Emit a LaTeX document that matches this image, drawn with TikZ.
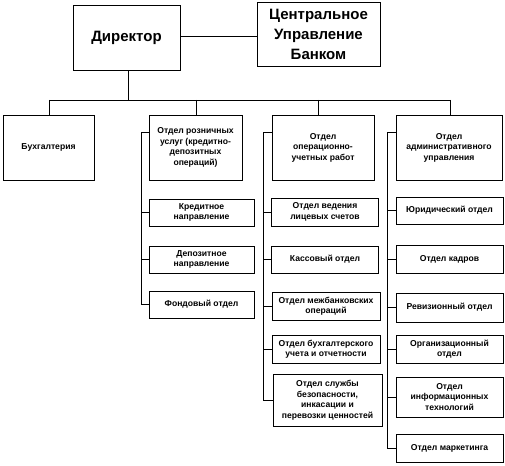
\documentclass[tikz,border=0pt]{standalone}
\usepackage{fontspec}
\setmainfont{Liberation Sans}
\begin{document}
\begin{tikzpicture}[x=1pt,y=-1pt,
  box/.style={draw=black, line width=0.8pt, align=center, inner sep=0pt,
    font=\bfseries\fontsize{8.6}{10.5}\selectfont},
  bigbox/.style={box, font=\bfseries\fontsize{15}{20}\selectfont},
  conn/.style={draw=black, line width=0.8pt}]
\useasboundingbox (0,0) rectangle (505,465);
% top
\node[bigbox, minimum width=107pt, minimum height=65pt] (dir) at (126.5,37.5) {Директор};
\node[bigbox, minimum width=123pt, minimum height=64pt] (cub) at (318.5,34) {Центральное\\Управление\\Банком};
% level 2
\node[box, minimum width=91pt, minimum height=65pt] (buh) at (48.5,147.5) {Бухгалтерия};
\node[box, minimum width=93pt, minimum height=65pt] (ret) at (195.5,147.5) {Отдел розничных\\услуг (кредитно-\\депозитных\\операций)};
\node[box, minimum width=102pt, minimum height=65pt] (op) at (323,147.5) {Отдел\\операционно-\\учетных работ};
\node[box, minimum width=106pt, minimum height=65pt] (adm) at (449,147.5) {Отдел\\административного\\управления};
% retail subs
\node[box, minimum width=105pt, minimum height=27pt] (kred) at (201.5,212.5) {Кредитное\\направление};
\node[box, minimum width=105pt, minimum height=27pt] (dep) at (201.5,259.5) {Депозитное\\направление};
\node[box, minimum width=105pt, minimum height=27pt] (fond) at (201.5,304.5) {Фондовый отдел};
% op subs
\node[box, minimum width=107pt, minimum height=28pt] (ved) at (325,212) {Отдел ведения\\лицевых счетов};
\node[box, minimum width=107pt, minimum height=27pt] (kass) at (325,259.5) {Кассовый отдел};
\node[box, minimum width=108pt, minimum height=28pt] (mezh) at (326,306) {Отдел межбанковских\\операций};
\node[box, minimum width=108pt, minimum height=28pt] (buhuch) at (326,349) {Отдел бухгалтерского\\учета и отчетности};
\node[box, minimum width=109pt, minimum height=52pt] (sluzh) at (327.5,400) {Отдел службы\\безопасности,\\инкасации и\\перевозки ценностей};
% admin subs
\node[box, minimum width=107pt, minimum height=27pt] (ur) at (449.5,210.5) {Юридический отдел};
\node[box, minimum width=107pt, minimum height=28pt] (kadr) at (449.5,259) {Отдел кадров};
\node[box, minimum width=107pt, minimum height=29pt] (rev) at (449.5,307.5) {Ревизионный отдел};
\node[box, minimum width=107pt, minimum height=28pt] (org) at (449.5,349) {Организационный\\отдел};
\node[box, minimum width=107pt, minimum height=40pt] (inf) at (449.5,397) {Отдел\\информационных\\технологий};
\node[box, minimum width=107pt, minimum height=28pt] (mark) at (449.5,448) {Отдел маркетинга};
% top connectors
\coordinate (hl) at (0,36);
\draw[conn] (dir.east |- hl) -- (cub.west |- hl);
\coordinate (bus) at (128,100);
\coordinate (b1) at (49,100);
\coordinate (b4) at (450,100);
\coordinate (b3) at (318,100);
\coordinate (b2) at (196,100);
\draw[conn] (dir.south -| bus) -- (bus);
\draw[conn] (b1) -- (b4);
\draw[conn] (b1) -- (b1 |- buh.north);
\draw[conn] (b2) -- (b2 |- ret.north);
\draw[conn] (b3) -- (b3 |- op.north);
\draw[conn] (b4) -- (b4 |- adm.north);
% retail trunk
\coordinate (rt) at (141,132);
\draw[conn] (rt -| ret.west) -- (rt) |- (fond.west);
\draw[conn] (rt |- kred.west) -- (kred.west);
\draw[conn] (rt |- dep.west) -- (dep.west);
% op trunk
\coordinate (ot) at (263,132);
\draw[conn] (ot -| op.west) -- (ot) |- (sluzh.west);
\draw[conn] (ot |- ved.west) -- (ved.west);
\draw[conn] (ot |- kass.west) -- (kass.west);
\draw[conn] (ot |- mezh.west) -- (mezh.west);
\draw[conn] (ot |- buhuch.west) -- (buhuch.west);
% admin trunk
\coordinate (at) at (387,132);
\draw[conn] (at -| adm.west) -- (at) |- (mark.west);
\draw[conn] (at |- ur.west) -- (ur.west);
\draw[conn] (at |- kadr.west) -- (kadr.west);
\draw[conn] (at |- rev.west) -- (rev.west);
\draw[conn] (at |- org.west) -- (org.west);
\draw[conn] (at |- inf.west) -- (inf.west);
\end{tikzpicture}
\end{document}
